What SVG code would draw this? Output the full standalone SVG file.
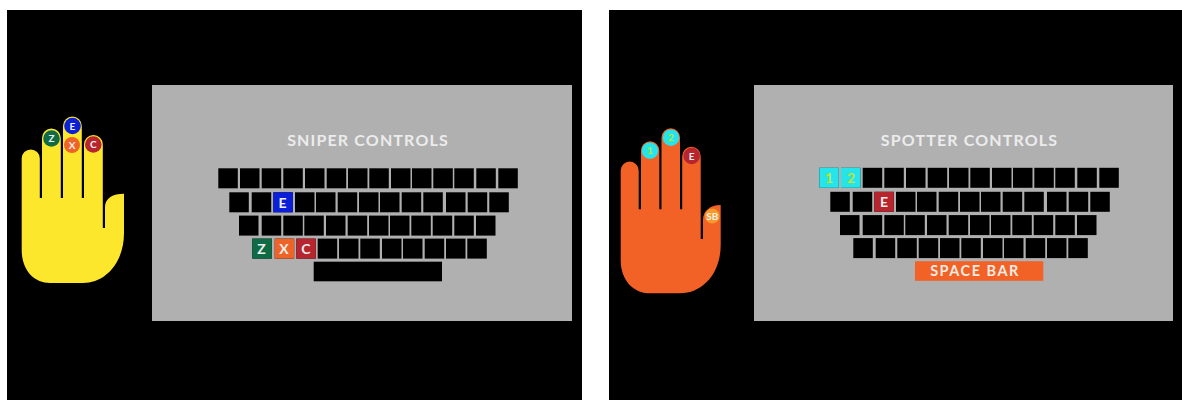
<svg xmlns="http://www.w3.org/2000/svg" width="1182" height="400" viewBox="0 0 1182 400">
<style>
text{font-family:Lato,"Open Sans","Liberation Sans",sans-serif;text-anchor:middle}
.screen{fill:#000}
.panel{fill:#b0b0b0}
.title{font-size:16px;font-weight:700;fill:#ececec;letter-spacing:1.15px}
.key{width:19.5px;height:20px}
.keylabel{font-size:14px;font-weight:700;fill:#eef0ee}
.spacebar{font-size:14.5px;font-weight:700;fill:#f3ece4;letter-spacing:1.5px}
.dot{font-size:10px;font-weight:700;fill:#eef0ee}
.yellow{fill:#fde72c}
.orange{fill:#f26125}
</style>
<defs>
<g id="keyrows" fill="#000">
<rect class="key" x="218.3" y="168.3"/><rect class="key" x="240" y="168.3"/><rect class="key" x="261.7" y="168.3"/><rect class="key" x="283.3" y="168.3"/><rect class="key" x="305" y="168.3"/><rect class="key" x="326.7" y="168.3"/><rect class="key" x="348" y="168.3"/><rect class="key" x="369.3" y="168.3"/><rect class="key" x="391" y="168.3"/><rect class="key" x="412" y="168.3"/><rect class="key" x="433.3" y="168.3"/><rect class="key" x="454.3" y="168.3"/><rect class="key" x="476.3" y="168.3"/><rect class="key" x="498.3" y="168.3"/>
<rect class="key" x="229.3" y="192.3"/><rect class="key" x="251.7" y="192.3"/><rect class="key" x="273.3" y="192.3"/><rect class="key" x="295" y="192.3"/><rect class="key" x="316" y="192.3"/><rect class="key" x="337.7" y="192.3"/><rect class="key" x="359" y="192.3"/><rect class="key" x="380" y="192.3"/><rect class="key" x="401.7" y="192.3"/><rect class="key" x="423.3" y="192.3"/><rect class="key" x="446" y="192.3"/><rect class="key" x="467.7" y="192.3"/><rect class="key" x="489.3" y="192.3"/>
<rect class="key" x="239" y="215.6"/><rect class="key" x="261.7" y="215.6"/><rect class="key" x="283.3" y="215.6"/><rect class="key" x="304.3" y="215.6"/><rect class="key" x="326" y="215.6"/><rect class="key" x="347.7" y="215.6"/><rect class="key" x="369" y="215.6"/><rect class="key" x="390" y="215.6"/><rect class="key" x="411.3" y="215.6"/><rect class="key" x="432.7" y="215.6"/><rect class="key" x="454.3" y="215.6"/><rect class="key" x="476" y="215.6"/>
<rect class="key" x="252.3" y="238.6"/><rect class="key" x="274.7" y="238.6"/><rect class="key" x="296.3" y="238.6"/><rect class="key" x="317.7" y="238.6"/><rect class="key" x="339" y="238.6"/><rect class="key" x="360.3" y="238.6"/><rect class="key" x="382" y="238.6"/><rect class="key" x="403" y="238.6"/><rect class="key" x="424.7" y="238.6"/><rect class="key" x="446" y="238.6"/><rect class="key" x="467.3" y="238.6"/>
</g>
</defs>
<rect width="1182" height="400" fill="#fff"/>

<g id="sniper-screen">
<rect class="screen" x="7" y="10" width="575" height="390"/>
<rect class="panel" x="152" y="85" width="420" height="236"/>
<text class="title" x="368" y="146">SNIPER CONTROLS</text>
</g>
<g id="sniper-keyboard">
<use href="#keyrows"/>
<rect x="313.7" y="261.7" width="128.3" height="19.6" fill="#000"/>
<rect class="key" x="273.3" y="192.3" fill="#0b1fd8"/><text class="keylabel" x="282.5" y="207.5">E</text>
<rect class="key" x="252.3" y="238.6" fill="#0e6b45"/><text class="keylabel" x="261.5" y="253.5">Z</text>
<rect class="key" x="274.7" y="238.6" fill="#ee6428"/><text class="keylabel" x="284" y="253.5">X</text>
<rect class="key" x="296.3" y="238.6" fill="#b7252f"/><text class="keylabel" x="306" y="253.5">C</text>
</g>
<g id="sniper-hand">
<path class="yellow" d="M21.7 250V158.5A8.9 8.9 0 0 1 39.8 158.5V198H42V138A9 9 0 0 1 60.8 138V198H63V126A9 9 0 0 1 81.8 126V198H84V144.5A9.2 9.2 0 0 1 102.8 144.5V228H105V207C105 198 113 193.7 124 193.7V233C124 262 106 283 83 283H50C34 283 21.7 270 21.7 250Z"/>
<circle cx="51.5" cy="138.5" r="8.3" fill="#0e6b45"/><text class="dot" x="51.5" y="142">Z</text>
<circle cx="72.5" cy="126" r="8.3" fill="#0b1fd8"/><text class="dot" x="72.5" y="129.5">E</text>
<circle cx="72" cy="145" r="8" fill="#ee6428"/><text class="dot" x="72" y="148.5">X</text>
<circle cx="93.3" cy="144.5" r="8.3" fill="#b7252f"/><text class="dot" x="93.3" y="148">C</text>
</g>

<g id="spotter-screen">
<rect class="screen" x="609" y="10" width="573" height="390"/>
<rect class="panel" x="754" y="85" width="419" height="236"/>
<text class="title" x="969.5" y="145.5">SPOTTER CONTROLS</text>
</g>
<g id="spotter-keyboard">
<use href="#keyrows" transform="translate(601 -.5)"/>
<rect class="key" x="819.3" y="167.8" fill="#25e4ea"/><text class="keylabel" x="829" y="183" style="fill:#b9e63a">1</text>
<rect class="key" x="841" y="167.8" fill="#25e4ea"/><text class="keylabel" x="851" y="183" style="fill:#b9e63a">2</text>
<rect class="key" x="874.3" y="191.8" fill="#b7252f"/><text class="keylabel" x="884" y="207">E</text>
<rect x="915" y="261.2" width="128.3" height="19.6" fill="#f26125"/><text class="spacebar" x="975" y="275.5">SPACE BAR</text>
</g>
<g id="spotter-hand">
<path class="orange" d="M620.7 260V170.5A8.9 8.9 0 0 1 638.7 170.5V209.3H641V150.5A9 9 0 0 1 659.3 150.5V209.3H661.5V137.5A9 9 0 0 1 680 137.5V209.3H682.2V156A9 9 0 0 1 700.7 156V239H703V220C703 211 710 205 720.7 205V245C720.7 273 703 293.3 680 293.3H650C633 293.3 620.7 280 620.7 260Z"/>
<circle cx="650" cy="150.7" r="8.3" fill="#25e4ea"/><text class="dot" x="650" y="154.2" style="fill:#b9e63a">1</text>
<circle cx="671" cy="137.7" r="8.3" fill="#25e4ea"/><text class="dot" x="671" y="141.2" style="fill:#b9e63a">2</text>
<circle cx="691.7" cy="156" r="8.3" fill="#b7252f"/><text class="dot" x="691.7" y="159.5">E</text>
<circle cx="712.3" cy="216" r="7.4" fill="#f79a2a"/><text class="dot" x="712.3" y="219.5">SB</text>
</g>
<g id="connectors"/>
</svg>
